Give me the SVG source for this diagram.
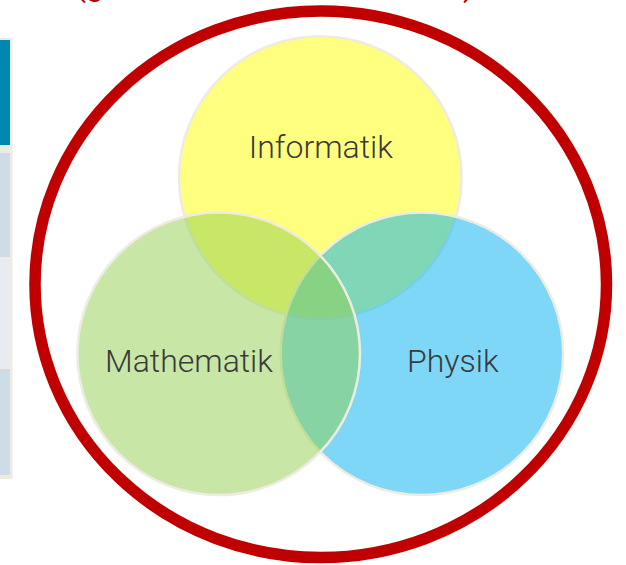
<svg xmlns="http://www.w3.org/2000/svg" width="626" height="565" viewBox="0 0 626 565">
  <style>
    .venn { stroke: #EEECE1; stroke-width: 2.5; fill-opacity: 0.5; }
    .lbl { font-family: Roboto, "Liberation Sans", sans-serif; font-weight: 300; font-size: 32px; fill: #3A3A3A; text-anchor: middle; }
    .red { font-family: Roboto, "Liberation Sans", sans-serif; font-size: 32px; fill: #C00000; }
  </style>
  <rect width="626" height="565" fill="#FFFFFF"/>
  <g id="table-fragment">
    <rect x="0" y="38" width="12.5" height="441" fill="#EEECE1"/>
    <rect x="0" y="40" width="10" height="105" fill="#0089B0"/>
    <rect x="0" y="153" width="10" height="104" fill="#CDDCE6"/>
    <rect x="0" y="259" width="10" height="108" fill="#E6ECF1"/>
    <rect x="0" y="369" width="10" height="106" fill="#CDDCE6"/>
  </g>
  <g id="title-fragment">
    <text class="red" x="75" y="-4">(g</text>
    <text class="red" x="463" y="-4">)</text>
  </g>
  <g id="outer-ring">
    <ellipse cx="320.75" cy="284.25" rx="285.75" ry="273.25" fill="none" stroke="#C00000" stroke-width="11.5"/>
  </g>
  <g id="informatik">
    <circle class="venn" cx="320.3" cy="177.5" r="141.3" fill="#FFFF00"/>
  </g>
  <g id="physik">
    <circle class="venn" cx="421.9" cy="353.8" r="141.3" fill="#00B0F0"/>
  </g>
  <g id="mathematik">
    <circle class="venn" cx="218.7" cy="353.8" r="141.3" fill="#92D050"/>
  </g>
  <g id="labels">
    <text class="lbl" x="320.8" y="158">Informatik</text>
    <text class="lbl" x="189" y="371.7">Mathematik</text>
    <text class="lbl" x="452.8" y="371.7">Physik</text>
  </g>
  <g id="connectors"></g>
</svg>
